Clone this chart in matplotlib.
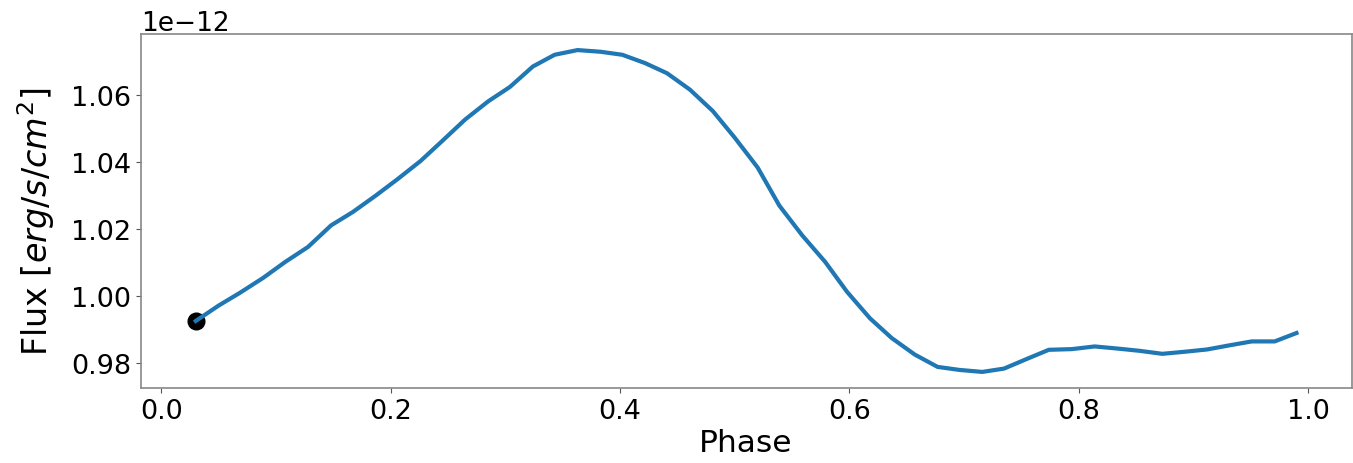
import matplotlib
matplotlib.use("Agg")
import matplotlib.pyplot as plt

phase = [0.030, 0.050, 0.069, 0.089, 0.108, 0.128, 0.148, 0.167, 0.187, 0.206,
         0.226, 0.245, 0.265, 0.285, 0.304, 0.324, 0.343, 0.363, 0.383, 0.402,
         0.422, 0.441, 0.461, 0.481, 0.500, 0.520, 0.539, 0.559, 0.579, 0.598,
         0.618, 0.637, 0.657, 0.677, 0.696, 0.716, 0.735, 0.755, 0.774, 0.794,
         0.814, 0.833, 0.853, 0.873, 0.892, 0.912, 0.931, 0.951, 0.971, 0.990]

flux_e12 = [0.9925, 0.9971, 1.0010, 1.0054, 1.0101, 1.0146, 1.0210, 1.0250, 1.0299, 1.0348,
            1.0402, 1.0462, 1.0526, 1.0580, 1.0623, 1.0684, 1.0719, 1.0733, 1.0728, 1.0719,
            1.0694, 1.0664, 1.0615, 1.0551, 1.0472, 1.0383, 1.0269, 1.0180, 1.0101, 1.0012,
            0.9933, 0.9874, 0.9825, 0.9788, 0.9779, 0.9773, 0.9783, 0.9812, 0.9839, 0.9841,
            0.9849, 0.9843, 0.9836, 0.9827, 0.9833, 0.9840, 0.9852, 0.9864, 0.9864, 0.9889]

flux = [v * 1e-12 for v in flux_e12]

fig = plt.figure(figsize=(13.53, 4.64), dpi=100)
ax = fig.add_axes([0.104, 0.1616, 0.8949, 0.763])

ax.plot(phase[:1], flux[:1], 'o', color='black', markersize=12, zorder=2)
ax.plot(phase, flux, color='#1f77b4', linewidth=3, zorder=3)

ax.set_xlabel('Phase', fontsize=22.5, labelpad=3)
ax.set_ylabel('Flux [$erg/s/cm^2$]', fontsize=24)
ax.yaxis.set_label_coords(-0.069, 0.472)
ax.tick_params(axis='both', labelsize=19.5, color='#555555')
ax.yaxis.get_offset_text().set_fontsize(19)
for s in ax.spines.values():
    s.set_color('#888888')
    s.set_linewidth(1.2)

fig.savefig('out.png', dpi=100)
